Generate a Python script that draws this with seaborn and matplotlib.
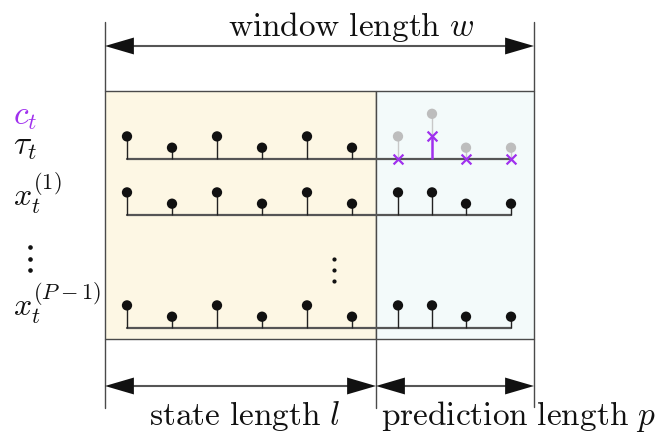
import numpy as np
import pandas as pd
import matplotlib
matplotlib.use("Agg")
import matplotlib.pyplot as plt
import seaborn as sns

sns.set_theme(style="white")
plt.rcParams["mathtext.fontset"] = "cm"
plt.rcParams["font.family"] = ["DejaVu Serif"]

# ---- series values (stem heights, in level units) ----
state_tau = [2, 1, 2, 1, 2, 1]
state_x1 = [2, 1, 2, 1, 2, 1]
state_xp = [2, 1, 2, 1, 2, 1]
pred_tau_true = [2, 4, 1, 1]          # grey target values
pred_tau_cost = [0, 2, 0, 0]          # purple predicted values c_t
pred_x1 = [2, 2, 1, 1]
pred_xp = [2, 2, 1, 1]

row_labels = [r"$\tau_t$", r"$x_t^{(1)}$", r"$x_t^{(P-1)}$"]

# ---- layout (canvas units) ----
W, H = 656, 436
state_x = 127 + 45 * np.arange(6)
pred_x = np.array([398, 432, 466, 511])
baselines = [159, 215, 328]
unit = 11.3
box_left, box_mid, box_right = 105, 376, 534
box_top, box_bot = 91, 339

YELLOW = "#fdf7e4"
CYAN = "#f3fafa"
PURPLE = "#a030ee"
GREY = "#bdbdbd"
DARK = "#111111"
EDGE = "#4a4a4a"

fig = plt.figure(figsize=(6.56, 4.36), dpi=100)
ax = fig.add_axes([0, 0, 1, 1])
ax.set_xlim(0, W)
ax.set_ylim(H, 0)
ax.axis("off")

# background boxes
ax.add_patch(plt.Rectangle((box_left, box_top), box_mid - box_left, box_bot - box_top,
                           facecolor=YELLOW, edgecolor=EDGE, lw=1.0, zorder=0))
ax.add_patch(plt.Rectangle((box_mid, box_top), box_right - box_mid, box_bot - box_top,
                           facecolor=CYAN, edgecolor=EDGE, lw=1.0, zorder=0))

# extension lines
ax.plot([box_left, box_left], [22, box_top], color=EDGE, lw=1.0)
ax.plot([box_right, box_right], [22, box_top], color=EDGE, lw=1.0)
ax.plot([box_left, box_left], [box_bot, 408], color=EDGE, lw=1.0)
ax.plot([box_mid, box_mid], [box_bot, 408], color=EDGE, lw=1.0)
ax.plot([box_right, box_right], [box_bot, 407], color=EDGE, lw=1.0)


def dim_arrow(x0, x1, y):
    ax.plot([x0 + 10, x1 - 10], [y, y], color="#555555", lw=1.5, zorder=2)
    head = dict(arrowstyle="-|>,head_length=1.3,head_width=0.38", color=DARK,
                lw=0, shrinkA=0, shrinkB=0, mutation_scale=16)
    ax.annotate("", xy=(x1, y), xytext=(x1 - 20, y), arrowprops=head, zorder=3)
    ax.annotate("", xy=(x0, y), xytext=(x0 + 20, y), arrowprops=head, zorder=3)


dim_arrow(box_left, box_right, 46)
dim_arrow(box_left, box_mid, 386)
dim_arrow(box_mid, box_right, 386)

TXT = 24
ax.text(351, 27, r"$\mathrm{window\ length}\ w$", fontsize=TXT,
        ha="center", va="center", color=DARK)
ax.text(245, 416, r"$\mathrm{state\ length}\ l$", fontsize=TXT,
        ha="center", va="center", color=DARK)
ax.text(518, 416, r"$\mathrm{prediction\ length}\ p$", fontsize=TXT,
        ha="center", va="center", color=DARK)

# stem rows
all_x = np.concatenate([state_x, pred_x])
rows = [(state_tau, None), (state_x1, pred_x1), (state_xp, pred_xp)]
frames = []
for (sv, pv), y0 in zip(rows, baselines):
    ax.plot([all_x[0], all_x[-1]], [y0, y0], color="#555555", lw=1.6, zorder=2)
    vals = list(sv) + (list(pv) if pv is not None else [])
    xs = all_x[:len(vals)]
    tops = y0 - unit * np.array(vals)
    ax.vlines(xs, tops, y0, color="#222222", lw=1.0, zorder=2)
    frames.append(pd.DataFrame({"x": xs, "y": tops}))

heads = pd.concat(frames, ignore_index=True)
sns.scatterplot(data=heads, x="x", y="y", ax=ax, color=DARK, s=55,
                edgecolor="none", zorder=4, legend=False)

# prediction row for tau: targets in grey, predicted c_t in purple
y0 = baselines[0]
true_top = y0 - unit * np.array(pred_tau_true)
cost_top = y0 - unit * np.array(pred_tau_cost)
ax.vlines(pred_x, true_top, cost_top, color="#c8c8c8", lw=1.0, zorder=2)
ax.vlines(pred_x, cost_top, y0, color=PURPLE, lw=1.8, zorder=3)
sns.scatterplot(x=pred_x, y=true_top, ax=ax, color=GREY, s=55,
                edgecolor="none", zorder=4, legend=False)
sns.scatterplot(x=pred_x, y=cost_top, ax=ax, color=PURPLE, s=50, marker="x",
                linewidth=1.6, zorder=5, legend=False)

# row labels
LBL = 23
ax.text(13, 116, r"$c_t$", fontsize=LBL + 1, color=PURPLE, ha="left", va="center")
ax.text(13, 146, row_labels[0], fontsize=LBL + 1, color=DARK, ha="left", va="center")
ax.text(13, 193, row_labels[1], fontsize=LBL, color=DARK, ha="left", va="center")
ax.text(13, 303, row_labels[2], fontsize=LBL, color=DARK, ha="left", va="center")

# vertical ellipses
ax.plot([30, 30, 30], [247, 258.5, 270], ls="none", marker="o", ms=2.3,
        color=DARK)
ax.plot([334, 334, 334], [259, 270, 281], ls="none", marker="o", ms=2.0,
        color=DARK)

fig.savefig("out.png", dpi=100, facecolor="white")
